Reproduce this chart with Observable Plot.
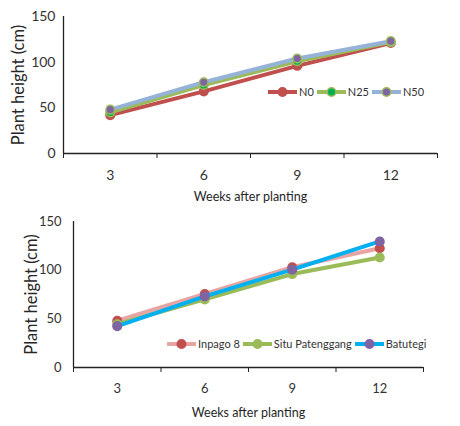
<!DOCTYPE html>
<html><head><meta charset="utf-8">
<script src="https://cdn.jsdelivr.net/npm/d3@7"></script>
<script src="https://cdn.jsdelivr.net/npm/@observablehq/plot@0.6"></script>
<style>
body{margin:0;background:#fff;}
#wrap{position:relative;width:460px;height:426px;font-family:Lato,sans-serif;}
.chart{position:absolute;left:0}
.legend{position:absolute;display:flex;align-items:center;font-size:11px;color:#333;gap:3px;line-height:12px;white-space:nowrap}
.item{display:flex;align-items:center;gap:2px;white-space:nowrap}
</style>
</head><body>
<div id="wrap"></div>
<script>
const weeks = [3, 6, 9, 12];
const yTicks = [0, 50, 100, 150];
const n0 = [42, 68, 96, 121];
const n25 = [45, 75, 101, 122];
const n50 = [48, 78, 104, 123];
const inpago8 = [48, 75.5, 103, 122.5];
const situPatenggang = [44.5, 70, 96, 113];
const batutegi = [42.5, 73, 100.5, 129.5];
const xTitle = "Weeks after planting";
const yTitle = "Plant height (cm)";

const topSeries = [
  {name: "N0", values: n0, line: "#c0504d", fill: "#c0504d", mstroke: "#c0504d"},
  {name: "N25", values: n25, line: "#9bbb59", fill: "#00b050", mstroke: "#9bbb59"},
  {name: "N50", values: n50, line: "#95b3d7", fill: "#8064a2", mstroke: "#9bbb59"}
];
const bottomSeries = [
  {name: "Inpago 8", values: inpago8, line: "#e6a5a3", fill: "#c0504d", mstroke: "#c0504d"},
  {name: "Situ Patenggang", values: situPatenggang, line: "#9bbb59", fill: "#9bbb59", mstroke: "#9bbb59"},
  {name: "Batutegi", values: batutegi, line: "#00b0f0", fill: "#8064a2", mstroke: "#8064a2"}
];

function makeChart(series, o) {
  const data = series.flatMap(s => weeks.map((w, i) => ({week: w, value: s.values[i], name: s.name})));
  const boundaries = weeks.map(w => w - 1.5).concat([weeks[weeks.length - 1] + 1.5]);
  const marks = [
    Plot.axisY({ticks: yTicks, tickSize: 0, tickPadding: o.yPad, label: null, fontSize: o.tickFont, fill: "#333"}),
    Plot.axisX({ticks: weeks, tickSize: 0, tickPadding: o.xPad, label: null, fontSize: o.tickFont, fill: "#333"}),
    Plot.axisX({ticks: boundaries, tickSize: 5, tickFormat: () => "", label: null, stroke: "#222"}),
    Plot.text([yTitle], {frameAnchor: "left", textAnchor: "middle", lineAnchor: "middle", rotate: -90, dx: o.yTitleDx, fontSize: 16.5, fill: "#262626"}),
    Plot.text([xTitle], {frameAnchor: "bottom", textAnchor: "middle", lineAnchor: "middle", dy: o.xTitleDy, fontSize: 12.5, fill: "#262626"}),
    Plot.ruleY([0], {stroke: "#222", strokeWidth: 1.3}),
    Plot.ruleX([boundaries[0]], {stroke: "#222", strokeWidth: 1.3})
  ];
  for (const s of series) {
    const d = data.filter(r => r.name === s.name);
    marks.push(Plot.line(d, {x: "week", y: "value", stroke: s.line, strokeWidth: o.lineWidth}));
    marks.push(Plot.dot(d, {x: "week", y: "value", r: 4.3, fill: s.fill, stroke: s.mstroke, strokeWidth: 1.5}));
  }
  const svg = Plot.plot({
    width: 460, height: o.height,
    marginLeft: o.marginLeft, marginRight: o.marginRight, marginTop: o.marginTop, marginBottom: o.marginBottom,
    style: {fontFamily: "Lato, sans-serif", fontSize: "14px", color: "#333", background: "transparent", overflow: "visible"},
    x: {domain: [boundaries[0], boundaries[boundaries.length - 1]]},
    y: {domain: [0, 150]},
    marks
  });
  svg.classList.add("chart");
  svg.style.top = o.top + "px";
  return svg;
}

function makeLegend(series, left, top, lw) {
  const div = document.createElement("div");
  div.className = "legend";
  div.style.left = left + "px";
  div.style.top = (top - 6) + "px";
  for (const s of series) {
    const it = document.createElement("div");
    it.className = "item";
    it.innerHTML = `<svg width="29" height="12"><line x1="0" x2="29" y1="6" y2="6" stroke="${s.line}" stroke-width="${lw}"/><circle cx="14.5" cy="6" r="4.3" fill="${s.fill}" stroke="${s.mstroke}" stroke-width="1.5"/></svg><span>${s.name}</span>`;
    div.appendChild(it);
  }
  return div;
}

const wrap = document.getElementById("wrap");
wrap.appendChild(makeChart(topSeries, {top: 0, height: 210, marginLeft: 63, marginRight: 23, marginTop: 16, marginBottom: 57, yPad: 8, xPad: 17, tickFont: 14, yTitleDx: -45, xTitleDy: 43, lineWidth: 4}));
wrap.appendChild(makeChart(bottomSeries, {top: 210, height: 216, marginLeft: 73, marginRight: 37, marginTop: 11, marginBottom: 59, yPad: 12, xPad: 16, tickFont: 13, yTitleDx: -42, xTitleDy: 45, lineWidth: 4}));
wrap.appendChild(makeLegend(topSeries, 268, 92, 4));
wrap.appendChild(makeLegend(bottomSeries, 167, 344, 4));
</script>
</body></html>
